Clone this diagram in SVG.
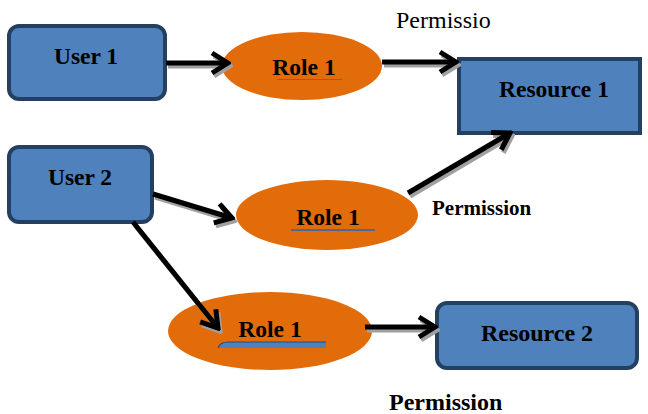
<svg xmlns="http://www.w3.org/2000/svg" width="648" height="414" viewBox="0 0 648 414">
<style>
.box{fill:#4F81BD;stroke:#243F60;stroke-width:4}
.role{fill:#E36C0A}
text{font-family:'Liberation Serif','Times New Roman',Times,serif;fill:#000}
.lbl{font-weight:bold;font-size:23.5px;text-anchor:middle}
.ln{fill:none;stroke:#000;stroke-width:5;marker-end:url(#ah)}
.sh{fill:none;stroke:#A0A0A0;stroke-width:5;marker-end:url(#ahs)}
</style>
<defs>
<marker id="ah" markerUnits="userSpaceOnUse" viewBox="0 0 22 26" refX="19" refY="13" markerWidth="22" markerHeight="26" orient="auto">
<path d="M3,3 L19,13 L3,23" fill="none" stroke="#000" stroke-width="5"/>
</marker>
<marker id="ahs" markerUnits="userSpaceOnUse" viewBox="0 0 22 26" refX="19" refY="13" markerWidth="22" markerHeight="26" orient="auto">
<path d="M3,3 L19,13 L3,23" fill="none" stroke="#A0A0A0" stroke-width="5"/>
</marker>
</defs>
<g id="user1">
<rect class="box" x="9" y="26" width="156" height="73" rx="10"/>
<text class="lbl" x="86" y="64">User 1</text>
</g>
<g id="role1a">
<ellipse class="role" cx="302" cy="66" rx="80" ry="34"/>
<text class="lbl" x="304" y="75">Role 1</text>
<line x1="277" y1="79.5" x2="342" y2="79.5" stroke="#5A6A8A" stroke-width="1"/>
</g>
<g id="resource1">
<rect class="box" x="459" y="59" width="181" height="74"/>
<text class="lbl" x="554" y="97">Resource 1</text>
</g>
<g id="user2">
<rect class="box" x="9" y="147" width="143" height="75" rx="10"/>
<text class="lbl" x="80" y="185">User 2</text>
</g>
<g id="role1b">
<ellipse class="role" cx="327" cy="215" rx="91" ry="35"/>
<text class="lbl" x="328" y="225">Role 1</text>
<line x1="291" y1="230" x2="375" y2="230" stroke="#4A6A9A" stroke-width="2"/>
</g>
<g id="role1c">
<ellipse class="role" cx="270" cy="331" rx="102" ry="39"/>
<text class="lbl" x="270" y="337">Role 1</text>
<path d="M218,348 Q220,342 228,342 L326,342 L326,348 Z" fill="#4F81BD"/>
<path d="M218,348 Q220,342 228,342 L326,342" fill="none" stroke="#2C4A78" stroke-width="1.2"/>
</g>
<g id="resource2">
<rect class="box" x="437" y="303" width="200" height="65" rx="10"/>
<text class="lbl" x="537" y="341" style="font-size:24px">Resource 2</text>
</g>
<g id="labels">
<text x="396" y="28" style="font-size:24px">Permissio</text>
<text x="432" y="215" style="font-size:21px;font-weight:bold">Permission</text>
<text x="389" y="410" style="font-size:24px;font-weight:bold">Permission</text>
</g>
<g id="connectors">
<g transform="translate(2,3)">
<path class="sh" d="M166,63 L228,63"/>
<path class="sh" d="M382,62 L456,62"/>
<path class="sh" d="M153,194 L232,218"/>
<path class="sh" d="M408,193 L510,133"/>
<path class="sh" d="M133,222 L218,328"/>
<path class="sh" d="M365,327 L435,327"/>
</g>
<path class="ln" d="M166,63 L228,63"/>
<path class="ln" d="M382,62 L456,62"/>
<path class="ln" d="M153,194 L232,218"/>
<path class="ln" d="M408,193 L510,133"/>
<path class="ln" d="M133,222 L218,328"/>
<path class="ln" d="M365,327 L435,327"/>
</g>
</svg>
